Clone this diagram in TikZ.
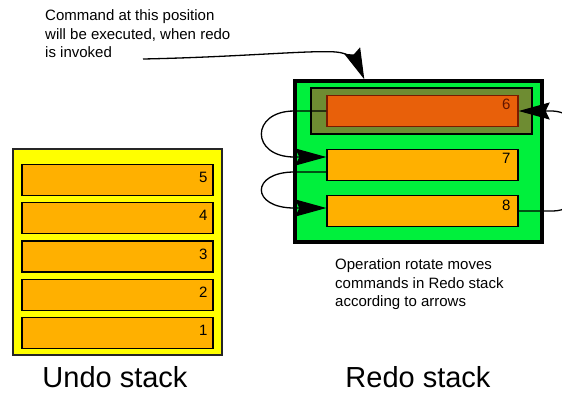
\documentclass[tikz,border=0pt]{standalone}
\usepackage{fontspec}
\setmainfont{Liberation Sans}
\usetikzlibrary{arrows.meta,calc}

\definecolor{undofill}{HTML}{FFFF00}
\definecolor{cmdorange}{HTML}{FFB000}
\definecolor{redofill}{HTML}{00F03C}
\definecolor{olivebox}{HTML}{6E8C32}
\definecolor{topcmd}{HTML}{E8600A}
\definecolor{topcmdedge}{HTML}{7A1A00}

\begin{document}
\begin{tikzpicture}[x=1pt,y=-1pt,
  stackframe/.style={draw=black!85, line width=1.4pt, inner sep=0pt},
  cmd/.style={draw=black, line width=1.3pt, fill=cmdorange, inner sep=0pt,
    minimum width=191pt, minimum height=31pt},
  numlabel/.style={font=\fontsize{15}{15}\selectfont, inner sep=0pt, anchor=north east},
  smalltext/.style={font=\fontsize{15}{18.5}\selectfont, align=left, inner sep=0pt, anchor=north west},
  biglabel/.style={font=\fontsize{29}{32}\selectfont, inner sep=0pt, anchor=base},
  rot/.style={line width=1.3pt, -{Stealth[length=31pt,width=17pt,inset=4pt]}},
]
\path[use as bounding box] (0,0) rectangle (562,392);
\clip (0,0) rectangle (562,392);

% ---- undo stack ----
\node[stackframe, fill=undofill, minimum width=209pt, minimum height=206pt] (undo) at (117.5,252) {};
\foreach \k/\y in {5/180,4/218.25,3/256.5,2/294.75,1/333} {
  \node[cmd] (u\k) at (117.5,\y) {};
  \node[numlabel] at ($(u\k.north east)+(-6,8)$) {\k};
}
\node[biglabel] (undolabel) at (115,387) {Undo stack};

% ---- redo stack ----
\node[draw=black, line width=3.4pt, fill=redofill, inner sep=0pt,
  minimum width=247pt, minimum height=161pt] (redo) at (418.5,161.5) {};
\node[draw=black, line width=1.4pt, fill=olivebox, inner sep=0pt,
  minimum width=221pt, minimum height=46pt] (current) at (421.5,111) {};
\node[cmd, fill=topcmd, draw=topcmdedge] (r6) at (422.5,111) {};
\node[cmd] (r7) at (422.5,165) {};
\node[cmd] (r8) at (422.5,211) {};
\node[numlabel, text=topcmdedge!80!black] at ($(r6.north east)+(-8,4)$) {6};
\node[numlabel] at ($(r7.north east)+(-8,4.5)$) {7};
\node[numlabel] at ($(r8.north east)+(-8,4.5)$) {8};
\node[biglabel] (redolabel) at (418,387) {Redo stack};

% ---- notes ----
\node[smalltext] (note) at (45,9.5) {Command at this position\\will be executed, when redo\\is invoked};
\node[smalltext] (rotnote) at (335,258.5) {Operation rotate moves\\commands in Redo stack\\according to arrows};
\coordinate (noteend) at (143,59);

% ---- connectors ----
\draw[rot] (noteend) .. controls (240,57) and (310,50) .. (336,52)
  .. controls (350,53) and (357,62) .. ($(redo.north west)+(71,0)$);

% rotation: 6 -> 7 -> 8 -> 6
\draw[rot] (r6.west) -- ++(-32,0) .. controls +(-44,0) and +(-44,0) ..
  ($(r7.west)+(-32,-8)$) -- ($(r7.west)+(0,-8)$);
\draw[rot] ($(r7.west)+(0,7)$) -- ++(-32,0) .. controls +(-44,0) and +(-44,0) ..
  ($(r8.west)+(-32,-3)$) -- ($(r8.west)+(0,-3)$);
\draw[rot] (r8.east) -- ++(34,0) .. controls +(48,0) and +(48,2) ..
  ($(r6.east)+(34,0)$) -- (r6.east);
\end{tikzpicture}
\end{document}
